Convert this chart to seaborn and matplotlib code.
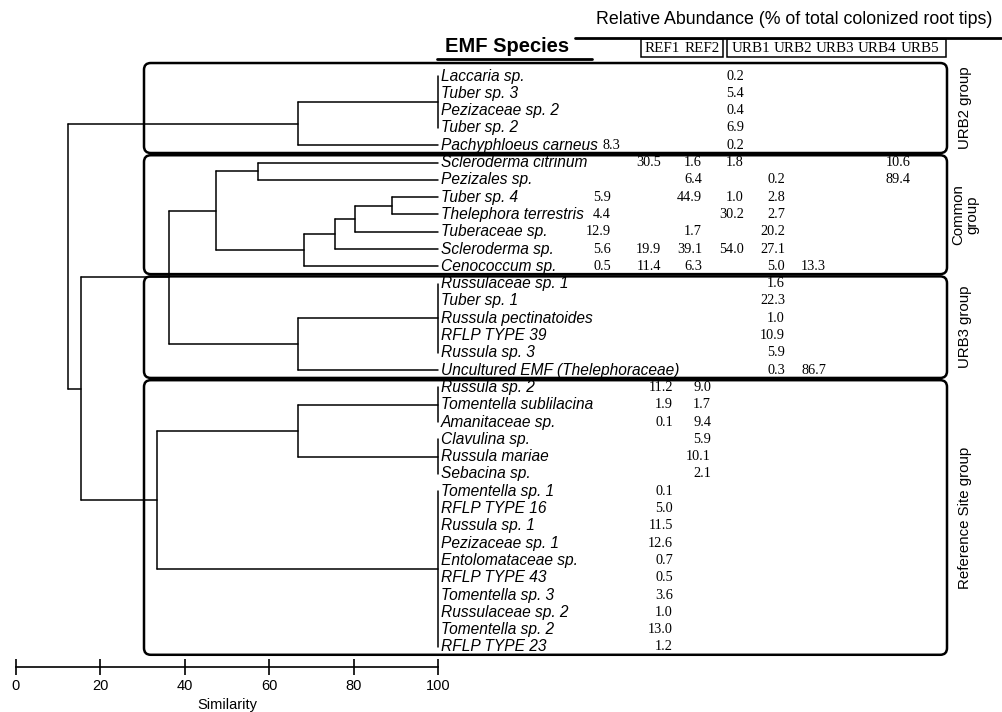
import numpy as np
import pandas as pd
import matplotlib
matplotlib.use("Agg")
import matplotlib.pyplot as plt
import seaborn as sns
from matplotlib.patches import FancyBboxPatch, Rectangle

# ---------------- data ----------------
species = [
    "Laccaria sp.", "Tuber sp. 3", "Pezizaceae sp. 2", "Tuber sp. 2", "Pachyphloeus carneus",
    "Scleroderma citrinum", "Pezizales sp.", "Tuber sp. 4", "Thelephora terrestris",
    "Tuberaceae sp.", "Scleroderma sp.", "Cenococcum sp.",
    "Russulaceae sp. 1", "Tuber sp. 1", "Russula pectinatoides", "RFLP TYPE 39",
    "Russula sp. 3", "Uncultured EMF (Thelephoraceae)",
    "Russula sp. 2", "Tomentella sublilacina", "Amanitaceae sp.", "Clavulina sp.",
    "Russula mariae", "Sebacina sp.", "Tomentella sp. 1", "RFLP TYPE 16", "Russula sp. 1",
    "Pezizaceae sp. 1", "Entolomataceae sp.", "RFLP TYPE 43", "Tomentella sp. 3",
    "Russulaceae sp. 2", "Tomentella sp. 2", "RFLP TYPE 23",
]
group_names = ["URB2 group", "Common\ngroup", "URB3 group", "Reference Site group"]
group_sizes = [5, 7, 6, 16]
sites = ["REF1", "REF2", "URB1", "URB2", "URB3", "URB4", "URB5"]
n = np.nan
REF1 = [n, n, n, n, 8.3, n, n, 5.9, 4.4, 12.9, 5.6, 0.5, n, n, n, n, n, n,
        11.2, 1.9, 0.1, n, n, n, 0.1, 5.0, 11.5, 12.6, 0.7, 0.5, 3.6, 1.0, 13.0, 1.2]
REF2 = [n, n, n, n, n, 30.5, n, n, n, n, 19.9, 11.4, n, n, n, n, n, n,
        9.0, 1.7, 9.4, 5.9, 10.1, 2.1, n, n, n, n, n, n, n, n, n, n]
URB1 = [n, n, n, n, n, 1.6, 6.4, 44.9, n, 1.7, 39.1, 6.3, n, n, n, n, n, n,
        n, n, n, n, n, n, n, n, n, n, n, n, n, n, n, n]
URB2 = [0.2, 5.4, 0.4, 6.9, 0.2, 1.8, n, 1.0, 30.2, n, 54.0, n, n, n, n, n, n, n,
        n, n, n, n, n, n, n, n, n, n, n, n, n, n, n, n]
URB3 = [n, n, n, n, n, n, 0.2, 2.8, 2.7, 20.2, 27.1, 5.0, 1.6, 22.3, 1.0, 10.9, 5.9, 0.3,
        n, n, n, n, n, n, n, n, n, n, n, n, n, n, n, n]
URB4 = [n, n, n, n, n, n, n, n, n, n, n, 13.3, n, n, n, n, n, 86.7,
        n, n, n, n, n, n, n, n, n, n, n, n, n, n, n, n]
URB5 = [n, n, n, n, n, 10.6, 89.4, n, n, n, n, n, n, n, n, n, n, n,
        n, n, n, n, n, n, n, n, n, n, n, n, n, n, n, n]

# dendrogram merges: (node, children, similarity)
merges = [
    ("U2a", ["Laccaria sp.", "Tuber sp. 3", "Pezizaceae sp. 2", "Tuber sp. 2"], 100),
    ("U2", ["U2a", "Pachyphloeus carneus"], 66.9),
    ("C1", ["Scleroderma citrinum", "Pezizales sp."], 57.3),
    ("C2", ["Tuber sp. 4", "Thelephora terrestris"], 89.1),
    ("C3", ["C2", "Tuberaceae sp."], 80.3),
    ("C4", ["C3", "Scleroderma sp."], 75.7),
    ("C5", ["C4", "Cenococcum sp."], 68.2),
    ("C", ["C1", "C5"], 47.5),
    ("U3a", ["Russulaceae sp. 1", "Tuber sp. 1", "Russula pectinatoides", "RFLP TYPE 39",
             "Russula sp. 3"], 100),
    ("U3", ["U3a", "Uncultured EMF (Thelephoraceae)"], 66.9),
    ("CU3", ["C", "U3"], 36.3),
    ("Ra", ["Russula sp. 2", "Tomentella sublilacina", "Amanitaceae sp."], 100),
    ("Rb", ["Clavulina sp.", "Russula mariae", "Sebacina sp."], 100),
    ("Rab", ["Ra", "Rb"], 66.9),
    ("Rc", ["Tomentella sp. 1", "RFLP TYPE 16", "Russula sp. 1", "Pezizaceae sp. 1",
            "Entolomataceae sp.", "RFLP TYPE 43", "Tomentella sp. 3", "Russulaceae sp. 2",
            "Tomentella sp. 2", "RFLP TYPE 23"], 100),
    ("R", ["Rab", "Rc"], 33.3),
    ("CUR", ["CU3", "R"], 15.4),
    ("root", ["U2", "CUR"], 12.4),
]
ticks = [0, 20, 40, 60, 80, 100]

# ---------------- layout helpers (pixel -> data) ----------------
W, H = 1003, 712
PX0, PXS = 16, 4.22          # similarity 0 at px 16, 4.22 px per unit
PY0, PYS = 76, 17.303        # row 0 at py 76, px per row


def X(px):
    return (px - PX0) / PXS


def Y(py):
    return (py - PY0) / PYS


sns.set_theme(style="white")
plt.rcParams["font.family"] = ["Liberation Sans", "DejaVu Sans"]
plt.rcParams["text.color"] = "black"
plt.rcParams["axes.labelcolor"] = "black"
plt.rcParams["xtick.color"] = "black"
plt.rcParams["xtick.labelcolor"] = "black"

fig = plt.figure(figsize=(W / 100, H / 100), dpi=100)
ax_top_py, ax_bot_py = 60, 667
ax = fig.add_axes([PX0 / W, 1 - ax_bot_py / H, (438 - PX0) / W, (ax_bot_py - ax_top_py) / H])

# ---------------- dendrogram ----------------
row_of = {s: i for i, s in enumerate(species)}
node_y, node_x = {}, {}
seg_rows = []
sid = 0


def add_seg(x0, y0, x1, y1):
    global sid
    seg_rows.append((sid, x0, y0))
    seg_rows.append((sid, x1, y1))
    sid += 1


for name, children, sim in merges:
    ys = []
    for c in children:
        if c in row_of:
            cy, cx = row_of[c], 100
        else:
            cy, cx = node_y[c], node_x[c]
        if cx != sim:
            add_seg(sim, cy, cx, cy)
        ys.append(cy)
    add_seg(sim, min(ys), sim, max(ys))
    node_y[name] = (min(ys) + max(ys)) / 2
    node_x[name] = sim

seg_df = pd.DataFrame(seg_rows, columns=["seg", "similarity", "row"])
sns.lineplot(data=seg_df, x="similarity", y="row", units="seg", estimator=None,
             sort=False, color="black", lw=1.1, ax=ax, legend=False)
for l in ax.lines:
    l.set_clip_on(False)

ax.set_xlim(0, 100)
ax.set_ylim(Y(ax_bot_py), Y(ax_top_py))
ax.set_xticks(ticks)
ax.set_xticklabels([str(t) for t in ticks])
ax.set_yticks([])
ax.set_ylabel("")
ax.set_xlabel("Similarity", fontsize=10.5, labelpad=3, color="black")
for s in ["top", "left", "right"]:
    ax.spines[s].set_visible(False)
ax.spines["bottom"].set_linewidth(1.2)
ax.spines["bottom"].set_color("black")
ax.tick_params(axis="x", direction="inout", length=12, width=1.2, labelsize=10.5,
               pad=3, colors="black", bottom=True)
ax.patch.set_alpha(0)

# ---------------- species labels ----------------
for i, s in enumerate(species):
    ax.text(X(441), i, s, fontsize=11.2, style="italic", ha="left", va="center",
            color="black", clip_on=False)

# ---------------- abundance values ----------------
table = pd.DataFrame({"REF1": REF1, "REF2": REF2, "URB1": URB1, "URB2": URB2,
                      "URB3": URB3, "URB4": URB4, "URB5": URB5}, index=species)
col_right = {"REF1": 611, "REF2": 661, "URB1": 702, "URB2": 744, "URB3": 785,
             "URB4": 826, "URB5": 911}
ref_group_right = {"REF1": 673, "REF2": 711}
group_of_row = np.repeat(np.arange(len(group_sizes)), group_sizes)
for i, s in enumerate(species):
    g = group_of_row[i]
    for site in sites:
        v = table.loc[s, site]
        if np.isnan(v):
            continue
        rx = col_right[site]
        if g == 3 and site in ref_group_right:
            rx = ref_group_right[site]
        if g == 0 and site == "REF1":
            rx = 620
        ax.text(X(rx), i, f"{v:.1f}", fontsize=10.3, family=["Liberation Serif"],
                ha="right", va="center", color="black", clip_on=False)

# ---------------- group boxes ----------------
starts = np.concatenate([[0], np.cumsum(group_sizes)[:-1]])
m_aspect = PXS / PYS
for gi, (st, sz) in enumerate(zip(starts, group_sizes)):
    top = st - 0.42 if gi > 0 else st - 0.75
    bot = st + sz - 1 + 0.45
    box = FancyBboxPatch((X(144), top), X(947) - X(144), bot - top,
                         boxstyle="round,pad=0,rounding_size=1.6",
                         mutation_aspect=m_aspect, fill=False, ec="black", lw=1.8,
                         clip_on=False)
    ax.add_patch(box)
    yc = (top + bot) / 2
    ax.text(X(965), yc, group_names[gi], rotation=90, fontsize=10.8, ha="center",
            va="center", color="black", clip_on=False, linespacing=1.0)

# ---------------- headers ----------------
ax.text(X(445), Y(47), "EMF Species", fontsize=14.5, weight="bold", ha="left",
        va="center", color="black", clip_on=False)
ax.plot([X(437), X(592)], [Y(59), Y(59)], color="black", lw=2, clip_on=False)
ax.text(X(794), Y(20), "Relative Abundance (% of total colonized root tips)",
        fontsize=12.8, ha="center", va="center", color="black", clip_on=False)
ax.plot([X(575), X(1001)], [Y(38), Y(38)], color="black", lw=2, clip_on=False)
for (x0, x1) in [(641, 723), (727, 946)]:
    ax.add_patch(Rectangle((X(x0), Y(39)), X(x1) - X(x0), Y(57) - Y(39), fill=False,
                           ec="black", lw=1.1, clip_on=False))
hdr_centers = [662, 702, 751, 793, 835, 877, 920]
for site, cx in zip(sites, hdr_centers):
    ax.text(X(cx), Y(48.5), site, fontsize=10.8, family=["Liberation Serif"],
            ha="center", va="center", color="black", clip_on=False)

fig.savefig("out.png", dpi=100)
